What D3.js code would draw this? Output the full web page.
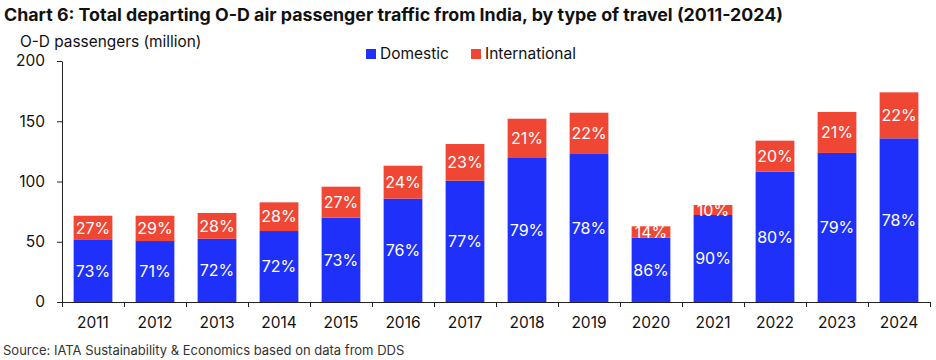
<!DOCTYPE html>
<html>
<head>
<meta charset="utf-8">
<script src="https://cdn.jsdelivr.net/npm/d3@7"></script>
<style>
  html, body { margin: 0; padding: 0; background: #fff; }
  svg { display: block; font-family: Inter, Roboto, "Noto Sans", sans-serif; }
</style>
</head>
<body>
<svg id="chart" width="936" height="360"></svg>
<script>
const years = ["2011","2012","2013","2014","2015","2016","2017","2018","2019","2020","2021","2022","2023","2024"];
const domestic = [51.5, 50.6, 52.5, 58.9, 70.0, 85.8, 100.7, 119.5, 122.8, 53.4, 72.2, 108.1, 123.7, 135.8];
const international = [20.1, 21.0, 21.4, 23.8, 25.7, 27.3, 30.4, 32.6, 34.3, 9.4, 8.3, 25.8, 34.0, 38.2];
const domesticShare = ["73%","71%","72%","72%","73%","76%","77%","79%","78%","86%","90%","80%","79%","78%"];
const internationalShare = ["27%","29%","28%","28%","27%","24%","23%","21%","22%","14%","10%","20%","21%","22%"];
const yTicks = [0, 50, 100, 150, 200];
const seriesNames = ["Domestic", "International"];
const colors = ["#1f30fa", "#f04634"];

const svg = d3.select("#chart");
const plotLeft = 62, plotRight = 930, plotTop = 61, plotBottom = 302;

const x = d3.scaleBand().domain(years).range([plotLeft, plotRight]).paddingInner(0.375).paddingOuter(0.1875);
const y = d3.scaleLinear().domain([0, 200]).range([plotBottom, plotTop]);

// Title
svg.append("text").attr("x", 4).attr("y", 21)
  .attr("font-weight", 700).attr("font-size", 17).attr("fill", "#111")
  .attr("textLength", 779).attr("lengthAdjust", "spacingAndGlyphs")
  .text("Chart 6: Total departing O-D air passenger traffic from India, by type of travel (2011-2024)");

// Y axis title
svg.append("text").attr("x", 20).attr("y", 47)
  .attr("font-size", 15.4).attr("fill", "#111")
  .text("O-D passengers (million)");

// Legend
const legendX = [366, 471];
seriesNames.forEach((n, i) => {
  svg.append("rect").attr("x", legendX[i]).attr("y", 49).attr("width", 10).attr("height", 10).attr("fill", colors[i]);
  svg.append("text").attr("x", legendX[i] + 14).attr("y", 59).attr("font-size", 15.5).attr("fill", "#111").text(n);
});

// Stacked data
const rows = years.map((yr, i) => ({year: yr, Domestic: domestic[i], International: international[i], i}));
const stack = d3.stack().keys(seriesNames)(rows);

const g = svg.append("g");
stack.forEach((layer, li) => {
  g.selectAll(null).data(layer).enter().append("rect")
    .attr("x", d => x(d.data.year))
    .attr("width", x.bandwidth())
    .attr("y", d => y(d[1]))
    .attr("height", d => y(d[0]) - y(d[1]))
    .attr("fill", colors[li]);
  const labels = li === 0 ? domesticShare : internationalShare;
  g.selectAll(null).data(layer).enter().append("text")
    .attr("x", d => x(d.data.year) + x.bandwidth() / 2)
    .attr("y", d => (y(d[0]) + y(d[1])) / 2)
    .attr("dy", "0.36em")
    .attr("text-anchor", "middle")
    .attr("font-size", 16).attr("fill", "#fff")
    .text(d => labels[d.data.i]);
});

// Y axis
const yAxis = svg.append("g").attr("transform", `translate(${plotLeft},0)`)
  .call(d3.axisLeft(y).tickValues(yTicks).tickSize(5).tickPadding(12).tickSizeOuter(0));
yAxis.select(".domain").attr("stroke", "#222");
yAxis.selectAll(".tick line").attr("stroke", "#222");
yAxis.selectAll(".tick text").attr("font-size", 15.5).attr("fill", "#111").attr("font-family", "Inter, Roboto, sans-serif");

// X axis: labels
const xAxis = svg.append("g").attr("transform", `translate(0,${plotBottom})`)
  .call(d3.axisBottom(x).tickSize(0).tickPadding(15).tickSizeOuter(0));
xAxis.select(".domain").attr("stroke", "#222").attr("d", `M${plotLeft},0.5H${plotRight + 1}`);
xAxis.selectAll(".tick text").attr("font-size", 15.5).attr("fill", "#111").attr("font-family", "Inter, Roboto, sans-serif");

// X axis boundary ticks
const half = x.step() * x.paddingInner() / 2;
const boundaries = years.map(yr => x(yr) - half).concat([x(years[years.length - 1]) + x.bandwidth() + half]);
svg.append("g").selectAll("line").data(boundaries).enter().append("line")
  .attr("x1", d => Math.round(d) + 0.5).attr("x2", d => Math.round(d) + 0.5)
  .attr("y1", plotBottom).attr("y2", plotBottom + 5)
  .attr("stroke", "#222");

// Source
svg.append("text").attr("x", 3).attr("y", 355)
  .attr("font-size", 13).attr("fill", "#333")
  .text("Source: IATA Sustainability & Economics based on data from DDS");
</script>
</body>
</html>
